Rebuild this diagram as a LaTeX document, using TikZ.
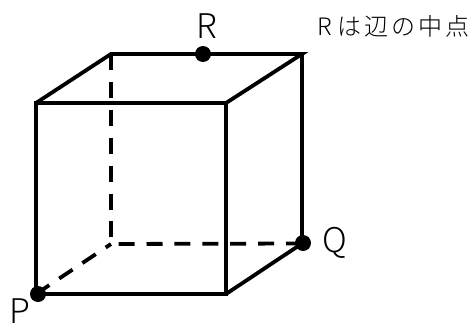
\documentclass[tikz,border=0pt]{standalone}
\usepackage{fontspec}
\setmainfont{Noto Sans CJK JP}[UprightFont=* Light]
\tikzset{edge/.style={line width=3.8pt,line cap=butt,line join=miter},hid/.style={line width=3.8pt,dash pattern=on 16pt off 11.9pt},pt/.style={circle,fill=black,inner sep=0pt,minimum size=16pt},lab/.style={font=\fontsize{34pt}{34pt}\selectfont,inner sep=0pt},note/.style={font=\fontsize{24pt}{26pt}\selectfont,inner sep=0pt,anchor=west}}
\begin{document}
\begin{tikzpicture}[x=1pt,y=-1pt]
\useasboundingbox (0,0) rectangle (474,332);
\coordinate (A) at (36,103);
\coordinate (B) at (226,103);
\coordinate (C) at (226,294);
\coordinate (D) at (36,294);
\coordinate (E) at (111,54);
\coordinate (F) at (302,54);
\coordinate (G) at (302,243.5);
\coordinate (H) at (111,244);
\draw[edge] (A)--(B)--(C)--(D)--cycle;
\draw[edge] (A)--(E)--(F)--(B);
\draw[edge] (F)--(G)--(C);
\draw[hid] (E)--(H);
\draw[hid] (G)--(H);
\draw[hid] (D)--(H);
\node[pt] (R) at (203,54) {};
\node[pt] (Q) at (303,243) {};
\node[pt] (P) at (38,294) {};
\node[lab] (Rl) at (207,26.5) {R};
\node[lab] (Ql) at (335,243) {Q};
\node[lab] (Pl) at (19.5,311) {P};
\node[note] (N) at (317.5,26) {R\hspace{5pt}は\hspace{3pt}辺\hspace{3pt}の\hspace{3pt}中\hspace{3pt}点};
\end{tikzpicture}
\end{document}
